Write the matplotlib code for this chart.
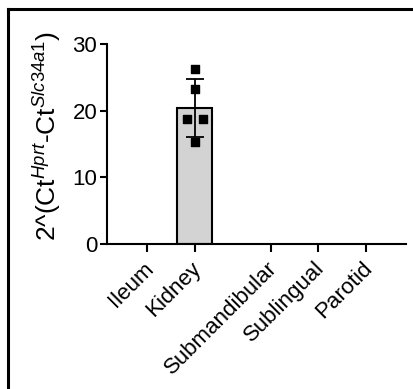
import matplotlib
matplotlib.use("Agg")
from matplotlib import pyplot as plt
from matplotlib.lines import Line2D
import matplotlib.transforms as mtransforms
import numpy as np

plt.rcParams["font.family"] = ["Liberation Sans", "DejaVu Sans"]
plt.rcParams["mathtext.fontset"] = "custom"
plt.rcParams["mathtext.rm"] = "Liberation Sans"
plt.rcParams["mathtext.it"] = "Liberation Sans:italic"

# data
tissues = ["Ileum", "Kidney", "Submandibular", "Sublingual", "Parotid"]
positions = [0, 1, 2.6, 3.6, 4.6]
means = [0, 20.4, 0, 0, 0]
sds = [0, 4.3, 0, 0, 0]
kidney_points = [26.2, 23.2, 18.7, 18.7, 15.3]
kidney_jitter = [0, 0, -0.17, 0.17, 0]

fig = plt.figure(figsize=(4.14, 3.89), dpi=100)
ax = fig.add_axes([0.2585, 0.3728, 0.7222, 0.5141])

ax.bar(positions[1], means[1], width=0.74, color="#d3d3d3",
       edgecolor="black", linewidth=1.5, zorder=1)
ax.errorbar(positions[1], means[1], yerr=sds[1], fmt="none", ecolor="black",
            elinewidth=1.3, capsize=6.5, capthick=1.3, zorder=2)
ax.scatter(np.array(kidney_jitter) + positions[1], kidney_points, marker="s",
           s=38, color="black", zorder=3)

ax.set_xlim(-0.85, 5.45)
ax.set_ylim(0, 30)
ax.set_yticks([0, 10, 20, 30])
ax.set_xticks(positions)
ax.set_xticklabels(tissues, rotation=45, ha="right", rotation_mode="anchor",
                   fontsize=16)
ax.tick_params(axis="y", labelsize=16, length=5, width=1.5, pad=2)
ax.tick_params(axis="x", length=6, width=1.5, pad=4)
for side in ["top", "right"]:
    ax.spines[side].set_visible(False)
for side in ["left", "bottom"]:
    ax.spines[side].set_linewidth(1.5)

# nudge the slanted labels a little to the left
shift = mtransforms.ScaledTranslation(-4 / 100, 0, fig.dpi_scale_trans)
for lab in ax.get_xticklabels():
    lab.set_transform(lab.get_transform() + shift)

ax.set_ylabel(r"2^(Ct$^{\mathit{Hprt}}$-Ct$^{\mathit{Slc34a1}}$)", fontsize=19)
ax.yaxis.set_label_coords(-0.147, 0.54)

# frame around the panel (only top and left show)
fig.add_artist(Line2D([0.02, 1.0], [0.976, 0.976], color="black", lw=2.2,
                      transform=fig.transFigure))
fig.add_artist(Line2D([0.0205, 0.0205], [0.0, 0.977], color="black", lw=2.2,
                      transform=fig.transFigure))

plt.savefig("out.png", dpi=100)
